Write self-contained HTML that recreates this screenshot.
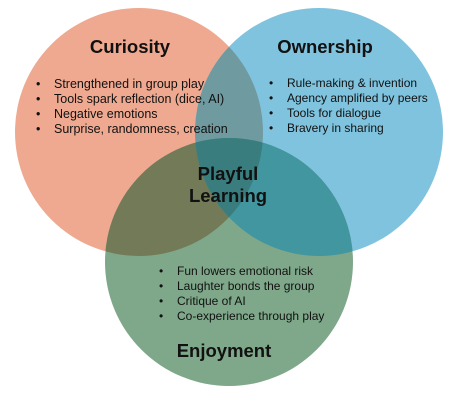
<!DOCTYPE html>
<html><head><meta charset="utf-8"><style>
html,body{margin:0;padding:0;background:#fff;}
svg{display:block;font-family:"Liberation Sans",Arial,sans-serif;}
.t{font-weight:bold;font-size:18.5px;fill:#111;text-anchor:middle;}
.b{font-size:12px;fill:#111;}
.c{font-size:12.5px;}
</style></head><body>
<svg width="465" height="408" viewBox="0 0 465 408">
<defs>
<clipPath id="cC"><circle cx="139" cy="132" r="124"/></clipPath>
<clipPath id="cO"><circle cx="319" cy="132" r="124"/></clipPath>
<clipPath id="cE"><circle cx="229" cy="262" r="124"/></clipPath>
</defs>
<circle cx="139" cy="132" r="124" fill="#efa990"/>
<circle cx="319" cy="132" r="124" fill="#80c3de"/>
<circle cx="229" cy="262" r="124" fill="#7fa88a"/>
<circle cx="319" cy="132" r="124" fill="#6f9aa0" clip-path="url(#cC)"/>
<circle cx="229" cy="262" r="124" fill="#737a57" clip-path="url(#cC)"/>
<circle cx="229" cy="262" r="124" fill="#42969f" clip-path="url(#cO)"/>
<g clip-path="url(#cC)"><circle cx="229" cy="262" r="124" fill="#3a7d7f" clip-path="url(#cO)"/></g>

<text class="t" x="130" y="53">Curiosity</text>
<text class="t" x="325" y="53">Ownership</text>
<text class="t" x="228" y="180">Playful</text>
<text class="t" x="228" y="202">Learning</text>
<text class="t" x="224" y="357">Enjoyment</text>

<g class="b">
<g class="c">
<text x="36" y="88">•</text><text x="54" y="88">Strengthened in group play</text>
<text x="36" y="103">•</text><text x="54" y="103">Tools spark reflection (dice, AI)</text>
<text x="36" y="118">•</text><text x="54" y="118">Negative emotions</text>
<text x="36" y="133">•</text><text x="54" y="133">Surprise, randomness, creation</text>
</g>
<text x="269" y="87">•</text><text x="287" y="87">Rule-making &amp; invention</text>
<text x="269" y="102">•</text><text x="287" y="102">Agency amplified by peers</text>
<text x="269" y="117">•</text><text x="287" y="117">Tools for dialogue</text>
<text x="269" y="132">•</text><text x="287" y="132">Bravery in sharing</text>

<text x="159" y="275">•</text><text x="177" y="275">Fun lowers emotional risk</text>
<text x="159" y="290">•</text><text x="177" y="290">Laughter bonds the group</text>
<text x="159" y="305">•</text><text x="177" y="305">Critique of AI</text>
<text x="159" y="320">•</text><text x="177" y="320">Co-experience through play</text>
</g>
</svg>
</body></html>
